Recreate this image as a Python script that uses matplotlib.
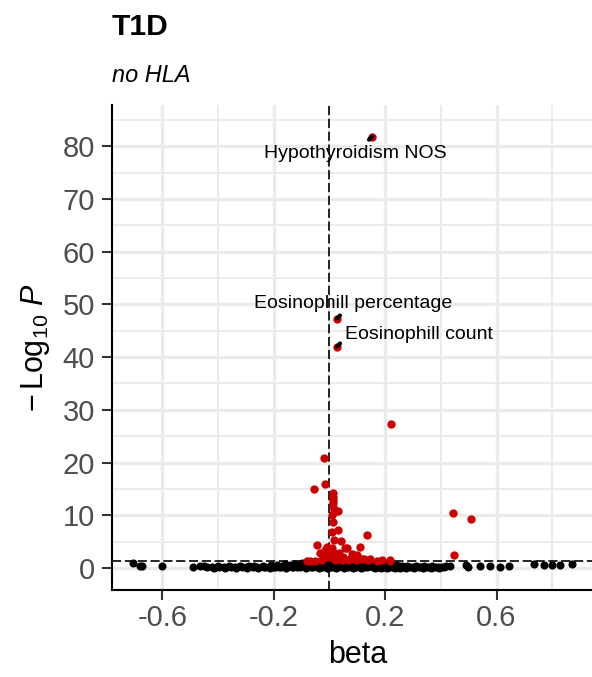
import matplotlib
matplotlib.use("Agg")
import matplotlib.pyplot as plt

# --- data ------------------------------------------------------------------
# non-significant associations (black)
ns_beta = [-0.704, -0.680, -0.672, -0.602, -0.490, -0.464, -0.452, -0.440,
           -0.42, -0.40, -0.38, -0.36, -0.34, -0.32, -0.30, -0.29, -0.27,
           -0.26, -0.24, -0.23, -0.21, -0.20, -0.19, -0.18, -0.17, -0.16,
           -0.15, -0.14, -0.13, -0.125, -0.12, -0.11, -0.105,
           -0.10, -0.09, -0.08, -0.075, -0.07, -0.065, -0.06, -0.055, -0.05,
           -0.045, -0.04, -0.04, -0.035, -0.03, -0.03, -0.025, -0.02, -0.02,
           -0.015, -0.01, -0.01, -0.005, -0.005, 0.0, 0.0, 0.005, 0.005,
           0.01, 0.01, 0.015, 0.015, 0.02, 0.02, 0.025, 0.03, 0.03, 0.035,
           0.04, 0.04, 0.045, 0.05, 0.05, 0.055, 0.06, 0.06, 0.065, 0.07,
           0.075, 0.08, 0.085, 0.09, 0.095, 0.10, 0.105, 0.11,
           0.12, 0.125, 0.13, 0.14, 0.15, 0.155, 0.16, 0.17, 0.18, 0.19,
           0.20, 0.21, 0.22, 0.23, 0.24, 0.25, 0.26, 0.27, 0.28, 0.30, 0.31,
           0.33, 0.34, 0.36, 0.37, 0.39, 0.40, 0.42,
           0.434, 0.490, 0.498, 0.542, 0.578, 0.614, 0.644, 0.733, 0.769,
           0.800, 0.829, 0.871,
           # lower, denser row of the band
           -0.415, -0.395, -0.375, -0.355, -0.335, -0.315, -0.295, -0.275,
           -0.255, -0.235, -0.215, -0.195, -0.175, -0.155, -0.135, -0.115,
           -0.095, -0.085, -0.068, -0.052, -0.037, -0.022, -0.008, 0.008,
           0.022, 0.037, 0.052, 0.068, 0.083, 0.097, 0.115, 0.135, 0.145,
           0.165, 0.175, 0.185, 0.195, 0.205, 0.215, 0.225, 0.235, 0.245,
           0.255, 0.265, 0.275, 0.29, 0.305, 0.32, 0.335, 0.35, 0.365, 0.38,
           0.395, 0.41]
ns_logp = [0.9, 0.45, 0.35, 0.3, 0.2, 0.4, 0.3, 0.2,
           0.2, 0.3, 0.15, 0.35, 0.2, 0.4, 0.1, 0.3, 0.45,
           0.2, 0.35, 0.1, 0.5, 0.25, 0.6, 0.15, 0.4, 0.7,
           0.3, 0.55, 0.1, 0.8, 0.4, 0.65, 0.2,
           0.9, 0.5, 1.1, 0.3, 0.7, 1.2, 0.2, 0.9, 0.5,
           1.1, 0.1, 0.7, 1.25, 0.4, 0.9, 0.2, 1.0, 0.6,
           1.2, 0.3, 0.8, 0.05, 1.1, 0.5, 0.9, 0.2, 1.25,
           0.6, 1.0, 0.1, 0.8, 1.2, 0.4, 0.7, 1.1, 0.2, 0.9,
           0.5, 1.2, 0.3, 1.0, 0.6, 0.15, 1.1, 0.8, 0.4, 1.2,
           0.6, 0.9, 0.2, 1.1, 0.5, 0.8, 0.3, 1.0,
           0.6, 0.2, 0.9, 0.4, 0.7, 0.15, 0.5, 0.85, 0.3, 0.6,
           0.2, 0.75, 0.4, 0.1, 0.55, 0.3, 0.45, 0.15, 0.35, 0.25, 0.4,
           0.15, 0.3, 0.2, 0.35, 0.1, 0.25, 0.3,
           0.4, 0.55, 0.15, 0.4, 0.4, 0.15, 0.4, 0.76, 0.57,
           0.57, 0.57, 0.76,
           0.05, 0.1, 0.05, 0.1, 0.05, 0.15, 0.05, 0.1,
           0.05, 0.15, 0.05, 0.1, 0.2, 0.05, 0.25, 0.1,
           0.3, 0.0, 0.15, 0.35, 0.0, 0.45, 0.0, 0.35,
           0.0, 0.3, 0.05, 0.25, 0.0, 0.2, 0.05, 0.1, 0.3,
           0.05, 0.2, 0.05, 0.15, 0.05, 0.1, 0.2, 0.05, 0.1,
           0.05, 0.2, 0.05, 0.1, 0.05, 0.1, 0.05, 0.1, 0.05, 0.15,
           0.05, 0.1]

# significant associations (red)
sig_beta = [0.222, -0.018, -0.015, -0.056, 0.442, 0.510, 0.136, 0.447,
            -0.043, 0.108, 0.064, -0.033, 0.012, 0.012, 0.012, 0.012, 0.012,
            0.015, 0.030, 0.009, 0.012, 0.009, 0.030, 0.015, 0.041, -0.009,
            0.009, -0.003, 0.015, 0.036, 0.081, 0.099, 0.087, -0.015, 0.003,
            0.024, 0.050, 0.075, 0.117, 0.147, 0.123, -0.079, 0.218, -0.051,
            0.140, 0.216, -0.069, 0.057, -0.015, 0.020, 0.045, 0.005, -0.025,
            0.065, 0.095, 0.170, 0.190]
sig_logp = [27.4, 20.8, 15.9, 15.0, 10.4, 9.2, 6.3, 2.4,
            4.4, 3.9, 3.7, 2.8, 14.2, 13.5, 12.9, 12.3, 11.6,
            10.7, 10.9, 10.0, 8.8, 6.9, 7.2, 5.4, 5.1, 4.0,
            3.7, 3.1, 2.9, 2.9, 2.65, 2.45, 2.5, 2.0, 2.1,
            1.8, 2.0, 1.7, 1.7, 1.7, 1.8, 1.4, 1.4, 1.35,
            1.5, 1.5, 1.35, 3.7, 3.4, 1.5, 1.6, 2.5, 1.6,
            1.5, 1.5, 1.4, 1.45]

# labelled phenotypes
lab_names = ["Hypothyroidism NOS", "Eosinophill percentage", "Eosinophill count"]
lab_beta = [0.153, 0.027, 0.027]
lab_logp = [81.8, 47.3, 42.0]
lab_text_beta = [0.094, 0.084, 0.320]
lab_text_logp = [78.6, 50.2, 44.2]
lab_seg = [(-2.2, -2.2), (2.2, 2.2), (2.2, 2.2)]   # segment stub, in points

x_ticks = [-0.6, -0.2, 0.2, 0.6]
x_minor = [-0.8, -0.4, 0.0, 0.4, 0.8]
y_ticks = [0, 10, 20, 30, 40, 50, 60, 70, 80]
y_minor = [5, 15, 25, 35, 45, 55, 65, 75, 85]
sig_line = 1.3   # -log10(0.05)

# --- style ------------------------------------------------------------------
plt.rcParams["font.family"] = "Liberation Sans"
plt.rcParams["mathtext.fontset"] = "custom"
plt.rcParams["mathtext.rm"] = "Liberation Sans"
plt.rcParams["mathtext.it"] = "Liberation Sans:italic"

W, H = 592, 677
fig = plt.figure(figsize=(W / 100, H / 100), dpi=100)
ax = fig.add_axes([111.7 / W, 1 - 590 / H, (604 - 111.7) / W, (590 - 105) / H])

grid = "#EBEBEB"
ax.set_xticks(x_ticks)
ax.set_xticks(x_minor, minor=True)
ax.set_yticks(y_ticks)
ax.set_yticks(y_minor, minor=True)
ax.grid(which="major", color=grid, lw=2.4)
ax.grid(which="minor", color=grid, lw=1.4)
ax.set_axisbelow(True)

ax.scatter(ns_beta, ns_logp, s=34, color="black", lw=0, zorder=3)
ax.scatter(sig_beta, sig_logp, s=36, color="#CC0000", lw=0, zorder=4)
ax.scatter(lab_beta, lab_logp, s=36, color="#CC0000", lw=0, zorder=4)

ax.axvline(0, color="black", lw=1.2, ls=(0, (5.5, 2.2)), zorder=2)
ax.axhline(sig_line, color="black", lw=1.2, ls=(0, (5.5, 2.2)), zorder=2)

for name, bx, by, tx, ty, seg in zip(lab_names, lab_beta, lab_logp,
                                     lab_text_beta, lab_text_logp, lab_seg):
    ax.annotate("", xy=(bx, by), xytext=seg, textcoords="offset points",
                arrowprops=dict(arrowstyle="-", lw=3.0, color="black",
                                shrinkA=0, shrinkB=0, capstyle="round"),
                zorder=5)
    ax.text(tx, ty, name, ha="center", va="center", fontsize=14,
            color="black", zorder=6)

ax.set_xlim(-0.782, 0.986)
ax.set_ylim(-4.17, 87.8)

for side in ("top", "right"):
    ax.spines[side].set_visible(False)
for side in ("left", "bottom"):
    ax.spines[side].set_linewidth(1.5)
    ax.spines[side].set_color("black")

ax.tick_params(which="major", length=7, width=1.5, color="#333333",
               labelsize=21, labelcolor="#4D4D4D")
ax.tick_params(axis="x", pad=3)
ax.tick_params(axis="y", pad=5)
ax.tick_params(which="minor", length=0)
ax.set_xticklabels(["-0.6", "-0.2", "0.2", "0.6"])

ax.set_xlabel("beta", fontsize=22, labelpad=6)
ax.set_ylabel(r"$-\,\mathrm{Log}_{10}\ \mathit{P}$", fontsize=22, labelpad=8)

fig.text(111.7 / W, 1 - 35 / H, "T1D", fontsize=21.6, fontweight="bold",
         ha="left", va="baseline")
fig.text(111.7 / W, 1 - 81.7 / H, "no HLA", fontsize=16.9, style="italic",
         ha="left", va="baseline")

fig.savefig("out.png", dpi=100)
